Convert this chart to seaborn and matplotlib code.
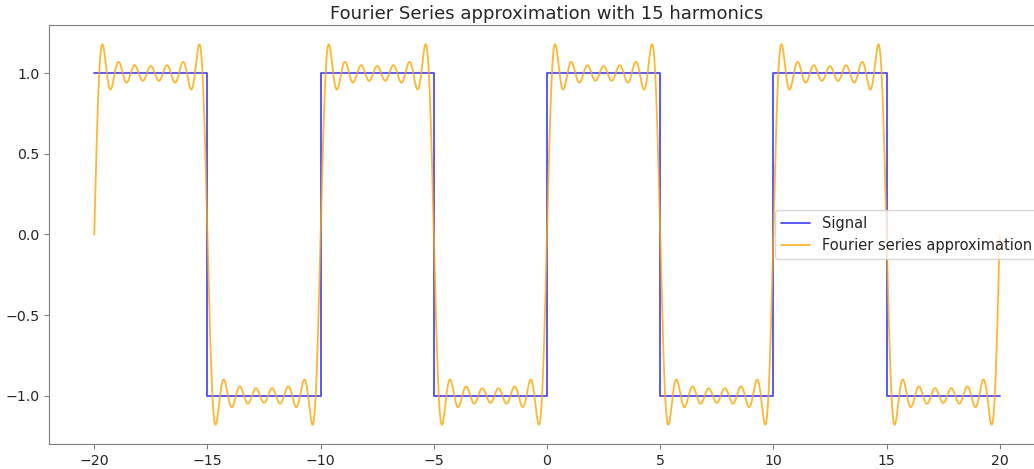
import numpy as np
import matplotlib
matplotlib.use("Agg")
import matplotlib.pyplot as plt
import seaborn as sns

# square wave definition
edges = [-20, -15, -10, -5, 0, 5, 10, 15, 20]
levels = [1, -1, 1, -1, 1, -1, 1, -1]
period = 10
n_harmonics = 15  # from the title

sns.set_style("ticks")
plt.rcParams['font.family'] = ['DejaVu Sans']

# signal as a step line
sig_x = edges
sig_y = levels + [levels[-1]]

# Fourier series of the square wave, odd terms only (even b_n = 0)
x = np.linspace(edges[0], edges[-1], 4000)
approx = np.zeros_like(x)
for n in range(1, n_harmonics):
    if n % 2 == 1:
        approx += 4 / (np.pi * n) * np.sin(2 * np.pi * n * x / period)

fig = plt.figure(figsize=(10.34, 4.69), dpi=100)
ax = fig.add_axes([49 / 1034, 25 / 469, 996 / 1034, 419 / 469])

sns.lineplot(x=sig_x, y=sig_y, ax=ax, color='blue', alpha=0.7, lw=1.3,
             drawstyle='steps-post', label='Signal', sort=False)
sns.lineplot(x=x, y=approx, ax=ax, color='orange', alpha=0.8, lw=1.3,
             label='Fourier series approximation', sort=False)

ax.set_xlim(-22, 22)
ax.set_ylim(-1.3, 1.3)
ax.set_xticks([-20, -15, -10, -5, 0, 5, 10, 15, 20])
ax.set_yticks([-1.0, -0.5, 0.0, 0.5, 1.0])
ax.tick_params(labelsize=10.2, color='#808080', length=3.5)
for s in ax.spines.values():
    s.set_color('#808080')
ax.set_title('Fourier Series approximation with 15 harmonics', fontsize=13, pad=4)
ax.legend(loc='center right', fontsize=10.5)

fig.savefig('out.png', dpi=100)
